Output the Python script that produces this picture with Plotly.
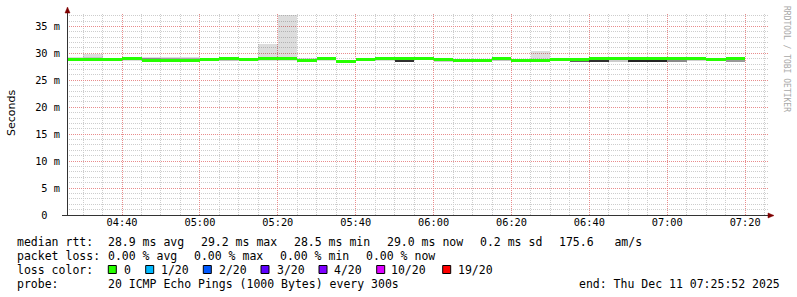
import math
from datetime import datetime, timedelta
import plotly.graph_objects as go

DAY = "2025-12-11 "
# 5-minute slots (start time of each RRD step)
slots = ["04:25", "04:30", "04:35", "04:40", "04:45", "04:50", "04:55",
         "05:00", "05:05", "05:10", "05:15", "05:20", "05:25", "05:30",
         "05:35", "05:40", "05:45", "05:50", "05:55", "06:00", "06:05",
         "06:10", "06:15", "06:20", "06:25", "06:30", "06:35", "06:40",
         "06:45", "06:50", "06:55", "07:00", "07:05", "07:10", "07:15"]
# median rtt (ms)
median = [28.78, 28.90, 28.78, 28.96, 28.72, 28.72, 28.72,
          28.78, 28.96, 28.84, 28.96, 28.96, 28.68, 29.05,
          28.48, 28.88, 29.08, 29.08, 29.02, 28.92, 28.62,
          28.62, 28.98, 28.72, 28.72, 28.86, 28.78, 29.05,
          29.05, 29.05, 29.05, 29.12, 29.12, 28.88, 29.00]
# smoke (outer ping spread, ms)
smoke_lo = [28.55, 28.60, 28.55, 28.60, 28.50, 28.50, 28.50,
            28.55, 28.60, 28.60, 28.65, 28.65, 28.40, 28.50,
            28.30, 28.55, 28.55, 28.45, 28.75, 28.50, 28.40,
            28.40, 28.55, 28.50, 28.50, 28.60, 28.50, 28.40,
            28.45, 28.35, 28.35, 28.45, 28.50, 28.55, 28.55]
smoke_hi = [29.35, 29.80, 29.15, 29.25, 29.30, 29.30, 29.30,
            29.10, 29.20, 29.20, 31.80, 37.20, 29.10, 29.30,
            28.75, 29.10, 29.30, 29.30, 29.20, 29.15, 28.85,
            28.85, 29.20, 29.00, 30.45, 29.10, 29.10, 29.25,
            29.30, 29.25, 29.25, 29.40, 29.35, 29.10, 29.20]
# inner (dense) part of the smoke
inner_lo = [28.65, 28.70, 28.65, 28.75, 28.60, 28.60, 28.60,
            28.65, 28.75, 28.70, 28.75, 28.80, 28.45, 28.80,
            28.40, 28.65, 28.80, 28.45, 28.90, 28.55, 28.50,
            28.50, 28.60, 28.60, 28.60, 28.70, 28.50, 28.40,
            28.45, 28.35, 28.35, 28.45, 28.50, 28.60, 28.55]
inner_hi = [29.15, 29.25, 28.95, 29.15, 29.10, 29.05, 29.05,
            28.95, 29.10, 29.10, 29.15, 29.10, 28.85, 29.20,
            28.60, 29.00, 29.20, 28.95, 29.10, 28.85, 28.75,
            28.75, 28.90, 28.85, 28.95, 29.00, 28.70, 28.85,
            28.85, 28.85, 28.85, 28.95, 28.95, 28.75, 28.80]
inner_col = ["#a8a8a8", "#c4c4c4", "#b8b8b8", "#bcbcbc", "#8c8c8c", "#a0a0a0", "#a8a8a8",
             "#b4b4b4", "#c0c0c0", "#9a9a9a", "#c8c8c8", "#c8c8c8", "#bcbcbc", "#b0b0b0",
             "#c0c0c0", "#b0b0b0", "#b8b8b8", "#303030", "#c8c8c8", "#d0d0d0", "#c8c8c8",
             "#c8c8c8", "#c4c4c4", "#c8c8c8", "#c8c8c8", "#c8c8c8", "#606060", "#303030",
             "#cccccc", "#262626", "#262626", "#8a8a8a", "#d0d0d0", "#b0b0b0", "#999999"]
loss = [0] * len(slots)

loss_labels = ["0", "1/20", "2/20", "3/20", "4/20", "10/20", "19/20"]
loss_colors = ["#26ff00", "#00b8ff", "#0059ff", "#5e00ff", "#7e00ff", "#dd00ff", "#ff0000"]
yticks = [0, 5, 10, 15, 20, 25, 30, 35]
yticktext = ["0\u00a0\u00a0"] + ["%d m" % v for v in yticks[1:]]
xmajor = ["04:40", "05:00", "05:20", "05:40", "06:00", "06:20", "06:40", "07:00", "07:20"]

X0, X1 = DAY + "04:25:52", DAY + "07:25:52"
YMAX = 37.3
STEP = 300000
SW = 0.27  # half width of median band

xs = [DAY + s for s in slots]
n = len(xs)

fig = go.Figure()
fig.add_trace(go.Bar(x=xs, base=smoke_lo, y=[h - l for h, l in zip(smoke_hi, smoke_lo)],
                     width=[STEP] * n, offset=0, marker_color="rgba(0,0,0,0.135)",
                     marker_line_width=0, hoverinfo="skip"))
fig.add_trace(go.Bar(x=xs, base=inner_lo, y=[h - l for h, l in zip(inner_hi, inner_lo)],
                     width=[STEP] * n, offset=0, marker_color=inner_col,
                     marker_line_width=0, hoverinfo="skip"))
fig.add_trace(go.Bar(x=xs, base=[m - SW for m in median], y=[2 * SW] * n,
                     width=[STEP] * n, offset=0,
                     marker_color=[loss_colors[0] if l == 0 else loss_colors[-1] for l in loss],
                     marker_line_width=0, hoverinfo="skip"))

L, R, T, B = 67, 29, 14, 82
W, H = 797, 297
PW, PH = W - L - R, H - T - B


def px(x):
    return (x - L) / PW


def py(y):
    return (H - B - y) / PH


MONO = "DejaVu Sans Mono"
MINOR = "rgb(205,205,205)"
MAJOR = "rgb(232,140,140)"
DASH = "1px,1px"

fig.update_layout(
    width=W, height=H, margin=dict(l=L, r=R, t=T, b=B),
    paper_bgcolor="white", plot_bgcolor="rgba(0,0,0,0)",
    barmode="overlay", bargap=0, showlegend=False, hovermode=False,
    font=dict(family=MONO, size=10.3, color="#000000"),
    xaxis=dict(type="date", range=[X0, X1],
               tickvals=[DAY + t for t in xmajor], ticktext=xmajor,
               showgrid=False, zeroline=False, showline=False,
               ticks="", ticklen=0,
               tickfont=dict(family=MONO, size=10.3, color="#000000")),
    yaxis=dict(range=[0, YMAX], tickvals=yticks, ticktext=yticktext,
               showgrid=False, zeroline=False, showline=False,
               ticks="outside", ticklen=4, tickcolor="rgba(0,0,0,0)",
               tickfont=dict(family=MONO, size=10.3, color="#000000")),
)

# grid lines, snapped to pixel centres so the 1px dots stay crisp
t0 = datetime.fromisoformat(X0)
t1 = datetime.fromisoformat(X1)
span = (t1 - t0).total_seconds()


def xpix(t):
    return math.floor(L + (t - t0).total_seconds() / span * PW) + 0.5


def ypix(v):
    return math.floor(T + (1 - v / YMAX) * PH) + 0.5


shapes = []
major_times = [datetime.fromisoformat(DAY + t) for t in xmajor]
t = datetime.fromisoformat(DAY + "04:30")
minor_times = []
while t < t1:
    if t not in major_times:
        minor_times.append(t)
    t += timedelta(minutes=5)
for tm in minor_times:
    p = xpix(tm)
    shapes.append(dict(type="line", xref="paper", yref="paper", x0=px(p), x1=px(p), y0=0, y1=1,
                       line=dict(color=MINOR, width=1, dash=DASH), layer="below"))
for v in range(1, int(YMAX) + 1):
    if v % 5:
        p = ypix(v)
        shapes.append(dict(type="line", xref="paper", yref="paper", x0=0, x1=1, y0=py(p), y1=py(p),
                           line=dict(color=MINOR, width=1, dash=DASH), layer="below"))
for tm in major_times:
    p = xpix(tm)
    shapes.append(dict(type="line", xref="paper", yref="paper", x0=px(p), x1=px(p), y0=0, y1=1,
                       line=dict(color=MAJOR, width=1, dash=DASH), layer="below"))
for v in yticks[1:]:
    p = ypix(v)
    shapes.append(dict(type="line", xref="paper", yref="paper", x0=0, x1=1, y0=py(p), y1=py(p),
                       line=dict(color=MAJOR, width=1, dash=DASH), layer="below"))

AX = "#333333"
ARW = "#7f0000"
shapes += [
    dict(type="line", xref="paper", yref="paper", x0=px(67.5), x1=px(67.5), y0=py(215), y1=py(11),
         line=dict(color=AX, width=1)),
    dict(type="line", xref="paper", yref="paper", x0=px(62), x1=px(769), y0=py(215.5), y1=py(215.5),
         line=dict(color=AX, width=1)),
    dict(type="path", xref="paper", yref="paper",
         path="M %f %f L %f %f L %f %f Z" % (px(65), py(13), px(70), py(13), px(67.5), py(7)),
         fillcolor=ARW, line=dict(color=ARW, width=0.5)),
    dict(type="path", xref="paper", yref="paper",
         path="M %f %f L %f %f L %f %f Z" % (px(768), py(213), px(768), py(218), px(774), py(215.5)),
         fillcolor=ARW, line=dict(color=ARW, width=0.5)),
]

ann = []


def text(x, y, s, size=11.5, **kw):
    ann.append(dict(xref="paper", yref="paper", x=px(x - 1), y=py(y), text=s,
                    xanchor="left", yanchor="middle", showarrow=False,
                    font=dict(family=MONO, size=size, color="black"), **kw))


r1, r2, r3, r4 = 241.5, 255.5, 269.5, 283.5
text(16, r1, "median rtt:")
text(107.3, r1, "28.9 ms avg")
text(200, r1, "29.2 ms max")
text(293.3, r1, "28.5 ms min")
text(386, r1, "29.0 ms now")
text(479, r1, "0.2 ms sd")
text(558.3, r1, "175.6\u00a0\u00a0\u00a0am/s")
text(16, r2, "packet loss:")
text(107.3, r2, "0.00 % avg")
text(193.3, r2, "0.00 % max")
text(279.3, r2, "0.00 % min")
text(365.3, r2, "0.00 % now")
text(16, r3, "loss color:")
sw_x = [108.3, 145.7, 203.3, 261, 319, 376.7, 442.7]
lab_x = [123.3, 160, 218.3, 276, 333.3, 390, 457.3]
for sx, lx, lab, col in zip(sw_x, lab_x, loss_labels, loss_colors):
    shapes.append(dict(type="rect", xref="paper", yref="paper",
                       x0=px(sx), x1=px(sx + 8), y0=py(273.5), y1=py(265.5),
                       fillcolor=col, line=dict(color="black", width=1)))
    text(lx, r3, lab)
text(16, r4, "probe:")
text(107.3, r4, "20 ICMP Echo Pings (1000 Bytes) every 300s")
text(578.3, r4, "end: Thu Dec 11 07:25:52 2025")

ann.append(dict(xref="paper", yref="paper", x=px(11), y=py(113), text="Seconds",
                textangle=-90, showarrow=False, xanchor="center", yanchor="middle",
                font=dict(family="DejaVu Sans", size=11, color="black")))
ann.append(dict(xref="paper", yref="paper", x=px(786), y=py(59), text="RRDTOOL / TOBI OETIKER",
                textangle=90, showarrow=False, xanchor="center", yanchor="middle",
                font=dict(family=MONO, size=8, color="#a8a8a8")))

fig.update_layout(shapes=shapes, annotations=ann)
fig.write_html("out.html")
